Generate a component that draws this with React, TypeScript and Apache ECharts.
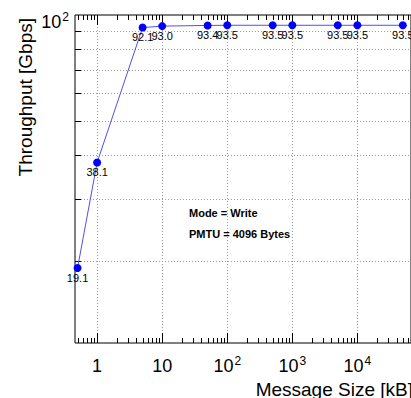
import React, { useEffect, useRef } from "react";
import * as echarts from "echarts";

// ---- data ----
const MSG_SIZES_KB = [0.5, 1, 5, 10, 50, 100, 500, 1000, 5000, 10000, 50000];
const THROUGHPUT_GBPS = [19.1, 38.1, 92.1, 93.0, 93.4, 93.5, 93.5, 93.5, 93.5, 93.5, 93.5];

// axis setup (log10 space)
const X_MIN = 0.457;
const X_MAX = 66800;
const Y_MIN = 11.7;
const Y_MAX = 100;
const X_MAJOR = [1, 10, 100, 1000, 10000, 100000];
const X_MAJOR_LABELS = ["1", "10", "10^2", "10^3", "10^4", "10^5"];
const Y_GRID = [20, 30, 40, 50, 60, 70, 80, 90];
const Y_LABELS = ["10^2"];
const Y_LABEL_VALUES = [100];

const lg = (v: number) => Math.log10(v);
const X_MIN_LOG = lg(X_MIN);
const X_MAX_LOG = lg(X_MAX);
const Y_MIN_LOG = lg(Y_MIN);
const Y_MAX_LOG = lg(Y_MAX);

const FONT = "Liberation Sans, Arial, Helvetica, sans-serif";

function fmtPow(s: string) {
  const i = s.indexOf("^");
  if (i < 0) return "{b|" + s + "}";
  return "{b|" + s.slice(0, i) + "}{s|" + s.slice(i + 1) + "}";
}

export default function App() {
  const ref = useRef<HTMLDivElement>(null);
  useEffect(() => {
    if (!ref.current) return;
    const chart = echarts.init(ref.current, undefined, { renderer: "svg" });

    // tick positions on the x axis
    const xTicks: number[][] = [];
    X_MAJOR.forEach((v) => xTicks.push([lg(v), 1]));
    for (let e = -1; e <= 4; e++) {
      for (let m = 2; m <= 9; m++) {
        const v = m * Math.pow(10, e);
        if (v > X_MIN && v < X_MAX) xTicks.push([lg(v), 0]);
      }
    }
    const yTicks = Y_GRID.map((v) => [X_MIN_LOG, lg(v)]);

    const pointData = MSG_SIZES_KB.map((x, i) => [lg(x), lg(THROUGHPUT_GBPS[i]), THROUGHPUT_GBPS[i]]);
    const xLabelVals = X_MAJOR.map(lg);

    const gridStyle = { stroke: "#9a9a9a", lineWidth: 1, lineDash: [1, 2] };
    const crisp = (v: number) => Math.round(v) + 0.5;

    chart.setOption({
      animation: false,
      grid: {
        left: 75,
        top: 15,
        bottom: 55,
        right: -9,
        show: true,
        borderColor: "#000",
        borderWidth: 1,
        backgroundColor: "transparent",
      },
      xAxis: {
        type: "value",
        min: X_MIN_LOG,
        max: X_MAX_LOG,
        axisLine: { show: false },
        axisTick: { show: false },
        splitLine: { show: false },
        axisLabel: {
          customValues: xLabelVals,
          margin: 12,
          formatter: (v: number) => {
            const idx = xLabelVals.findIndex((q) => Math.abs(q - v) < 1e-6);
            return idx >= 0 ? fmtPow(X_MAJOR_LABELS[idx]) : "";
          },
          rich: {
            b: { fontSize: 18, fontFamily: FONT, color: "#000", lineHeight: 20, verticalAlign: "bottom" },
            s: { fontSize: 12, fontFamily: FONT, color: "#000", lineHeight: 20, verticalAlign: "top", padding: [0, 0, 0, 1] },
          },
        },
      },
      yAxis: {
        type: "value",
        min: Y_MIN_LOG,
        max: Y_MAX_LOG,
        axisLine: { show: false },
        axisTick: { show: false },
        splitLine: { show: false },
        axisLabel: {
          customValues: Y_LABEL_VALUES.map(lg),
          margin: 6,
          formatter: () => fmtPow(Y_LABELS[0]),
          padding: [12, 0, 0, 0],
          rich: {
            b: { fontSize: 18, fontFamily: FONT, color: "#000", lineHeight: 20, verticalAlign: "bottom" },
            s: { fontSize: 12, fontFamily: FONT, color: "#000", lineHeight: 20, verticalAlign: "top", padding: [0, 0, 0, 1] },
          },
        },
      },
      graphic: [
        {
          type: "text",
          x: 413,
          y: 389,
          style: {
            text: "Message Size [kB]",
            fontSize: 19,
            fontFamily: FONT,
            fill: "#000",
            align: "right",
            verticalAlign: "middle",
          },
        },
        {
          type: "text",
          x: 25,
          y: 18,
          rotation: Math.PI / 2,
          style: {
            text: "Throughput [Gbps]",
            fontSize: 19,
            fontFamily: FONT,
            fill: "#000",
            align: "right",
            verticalAlign: "middle",
          },
        },
        {
          type: "text",
          x: 189,
          y: 213,
          style: {
            text: "Mode = Write",
            fontSize: 11,
            fontWeight: "bold",
            fontFamily: FONT,
            fill: "#000",
            align: "left",
            verticalAlign: "middle",
          },
        },
        {
          type: "text",
          x: 189,
          y: 234,
          style: {
            text: "PMTU = 4096 Bytes",
            fontSize: 11,
            fontWeight: "bold",
            fontFamily: FONT,
            fill: "#000",
            align: "left",
            verticalAlign: "middle",
          },
        },
      ],
      series: [
        // vertical grid lines
        {
          type: "custom",
          silent: true,
          z: 1,
          data: X_MAJOR.map((v) => [lg(v), Y_MIN_LOG]),
          renderItem: (_p: any, api: any) => {
            const b = api.coord([api.value(0), Y_MIN_LOG]);
            const t = api.coord([api.value(0), Y_MAX_LOG]);
            const x = crisp(b[0]);
            return { type: "line", shape: { x1: x, y1: b[1], x2: x, y2: t[1] }, style: gridStyle };
          },
        },
        // horizontal grid lines + left ticks
        {
          type: "custom",
          silent: true,
          z: 1,
          data: yTicks,
          renderItem: (_p: any, api: any) => {
            const l = api.coord([X_MIN_LOG, api.value(1)]);
            const r = api.coord([X_MAX_LOG, api.value(1)]);
            const y = crisp(l[1]);
            return {
              type: "group",
              children: [
                { type: "line", shape: { x1: l[0], y1: y, x2: r[0], y2: y }, style: gridStyle },
                { type: "line", shape: { x1: l[0], y1: y, x2: l[0] + 6, y2: y }, style: { stroke: "#000", lineWidth: 1 } },
              ],
            };
          },
        },
        // x ticks on bottom and top
        {
          type: "custom",
          silent: true,
          z: 2,
          data: xTicks,
          renderItem: (_p: any, api: any) => {
            const b = api.coord([api.value(0), Y_MIN_LOG]);
            const t = api.coord([api.value(0), Y_MAX_LOG]);
            const len = api.value(1) ? 10 : 5;
            const x = crisp(b[0]);
            return {
              type: "group",
              children: [
                { type: "line", shape: { x1: x, y1: b[1], x2: x, y2: b[1] - len }, style: { stroke: "#000", lineWidth: 1 } },
                { type: "line", shape: { x1: x, y1: t[1], x2: x, y2: t[1] + len }, style: { stroke: "#000", lineWidth: 1 } },
              ],
            };
          },
        },
        {
          type: "line",
          z: 5,
          data: pointData,
          symbol: "circle",
          symbolSize: 8,
          lineStyle: { color: "#5050ee", width: 1 },
          itemStyle: { color: "#0000ff" },
          label: {
            show: true,
            position: "bottom",
            distance: 0,
            fontSize: 11,
            fontFamily: FONT,
            color: "#000",
            formatter: (p: any) => Number(p.value[2]).toFixed(1),
          },
          labelLayout: { hideOverlap: false },
        },
      ],
    });
    return () => chart.dispose();
  }, []);

  return (
    <div
      ref={ref}
      style={{ position: "fixed", left: 0, top: 0, width: 411, height: 398, background: "#fff" }}
    />
  );
}
